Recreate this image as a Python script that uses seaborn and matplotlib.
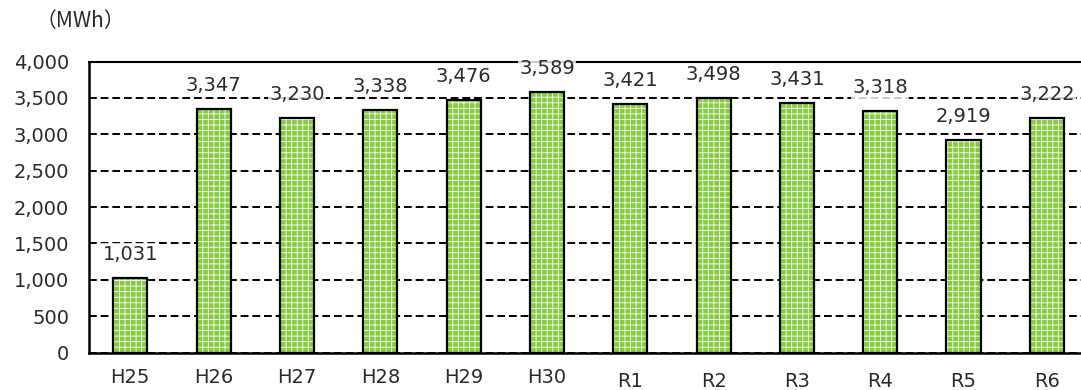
import numpy as np
import pandas as pd
import matplotlib
matplotlib.use('Agg')
import matplotlib.pyplot as plt
import seaborn as sns
from matplotlib.patches import Rectangle


# data
years = ['H25', 'H26', 'H27', 'H28', 'H29', 'H30', 'R1', 'R2', 'R3', 'R4', 'R5', 'R6']
energy_mwh = [1031, 3347, 3230, 3338, 3476, 3589, 3421, 3498, 3431, 3318, 2919, 3222]
yticks = [0, 500, 1000, 1500, 2000, 2500, 3000, 3500, 4000]

df = pd.DataFrame({'year': years, 'mwh': energy_mwh})

sns.set_style('white')
plt.rcParams['font.family'] = ['DejaVu Sans']
plt.rcParams['hatch.linewidth'] = 0.6
plt.rcParams['hatch.color'] = 'white'

fig = plt.figure(figsize=(10.81, 3.90), dpi=100)
ax = fig.add_axes([0.082, 0.096, 0.925, 0.746])

# green checker-ish bars: green fill with a fine white grid hatch
sns.barplot(data=df, x='year', y='mwh', color='#86cc3f', saturation=1,
            width=0.41, edgecolor='white', linewidth=0, hatch='+++', ax=ax)

# black outline on top of each bar
for p in list(ax.patches):
    ax.add_patch(Rectangle((p.get_x(), p.get_y()), p.get_width(), p.get_height(),
                           fill=False, edgecolor='black', linewidth=1.6, zorder=3))

# value labels
ax.bar_label(ax.containers[0], labels=[f'{v:,}' for v in energy_mwh], padding=10,
             fontsize=14, color='#2a2a2a',
             bbox=dict(facecolor='white', edgecolor='none', alpha=0.8, pad=1))

ax.set_ylim(0, 4000)
ax.set_xlim(-0.5, len(years) - 0.5)
ax.set_yticks(yticks)
ax.set_yticklabels([f'{v:,}' for v in yticks])
ax.set_xticks(np.arange(-0.5, len(years)), minor=True)
ax.set_xlabel('')
ax.set_ylabel('')

ax.set_axisbelow(True)
ax.yaxis.grid(True, color='black', linestyle=(0, (4, 2)), linewidth=1.4)
ax.tick_params(axis='y', length=0, pad=14, labelsize=14, labelcolor='#2a2a2a')
ax.tick_params(axis='x', which='major', length=0, pad=11, labelsize=14, labelcolor='#2a2a2a')
ax.tick_params(axis='x', which='minor', direction='in', length=5, width=1.5, color='black')

for lbl in ax.get_xticklabels():
    if lbl.get_text().startswith('R'):
        lbl.set_y(-0.013)

for side in ['left', 'bottom', 'top']:
    ax.spines[side].set_visible(True)
    ax.spines[side].set_color('black')
    ax.spines[side].set_linewidth(1.8)
ax.spines['top'].set_linewidth(1.5)
ax.spines['right'].set_visible(False)

fig.text(0.033, 0.945, '（MWh）', fontsize=15, color='#2a2a2a', va='center', ha='left',
         family=['Noto Sans CJK JP', 'DejaVu Sans'])

fig.savefig('out.png', dpi=100)
